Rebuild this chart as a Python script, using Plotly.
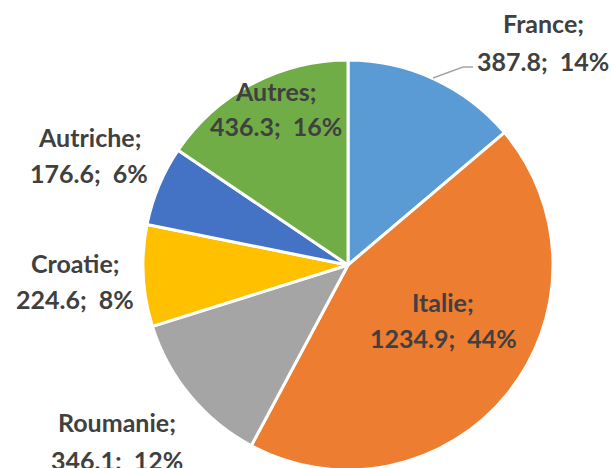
import plotly.graph_objects as go

# Pays et valeurs
pays = ["France", "Italie", "Roumanie", "Croatie", "Autriche", "Autres"]
valeurs = [387.8, 1234.9, 346.1, 224.6, 176.6, 436.3]
couleurs = ["#5B9BD5", "#ED7D31", "#A5A5A5", "#FFC000", "#4472C4", "#70AD47"]

W, H = 611, 470
total = sum(valeurs)

# pixel positions (centre of each two-line label), top-left origin
label_pos = {
    "France": (543, 23, 61),
    "Italie": (443, 302, 338),
    "Roumanie": (117, 422, 460),
    "Croatie": (75, 263, 299),
    "Autriche": (89, 137, 173),
    "Autres": (276, 91, 126),
}

cx, cy, r = 348, 265, 205

fig = go.Figure(
    go.Pie(
        labels=pays,
        values=valeurs,
        sort=False,
        direction="clockwise",
        rotation=0,
        marker=dict(colors=couleurs, line=dict(color="white", width=3)),
        textinfo="none",
        hoverinfo="label+value+percent",
        showlegend=False,
        domain=dict(x=[(cx - r) / W, (cx + r) / W], y=[1 - (cy + r) / H, 1 - (cy - r) / H]),
    )
)

font = dict(family="Lato", size=25, color="#404040")
for nom, val in zip(pays, valeurs):
    x, y1, y2 = label_pos[nom]
    pct = round(val / total * 100)
    for txt, y in ((f"<b>{nom};</b>", y1), (f"<b>{val:.1f};  {pct}%</b>", y2)):
        fig.add_annotation(
            x=x / W, y=1 - y / H, xref="paper", yref="paper",
            text=txt, showarrow=False, font=font,
            xanchor="center", yanchor="middle",
        )

# leader line for the France label
fig.add_shape(
    type="path",
    path=f"M {433/W} {1-78/H} L {463/W} {1-67/H} L {473/W} {1-67/H}",
    xref="paper", yref="paper",
    line=dict(color="#A5A5A5", width=1.5),
)

fig.update_layout(
    width=W, height=H,
    margin=dict(l=0, r=0, t=0, b=0),
    paper_bgcolor="white",
    plot_bgcolor="white",
)

fig.write_html("out.html")
